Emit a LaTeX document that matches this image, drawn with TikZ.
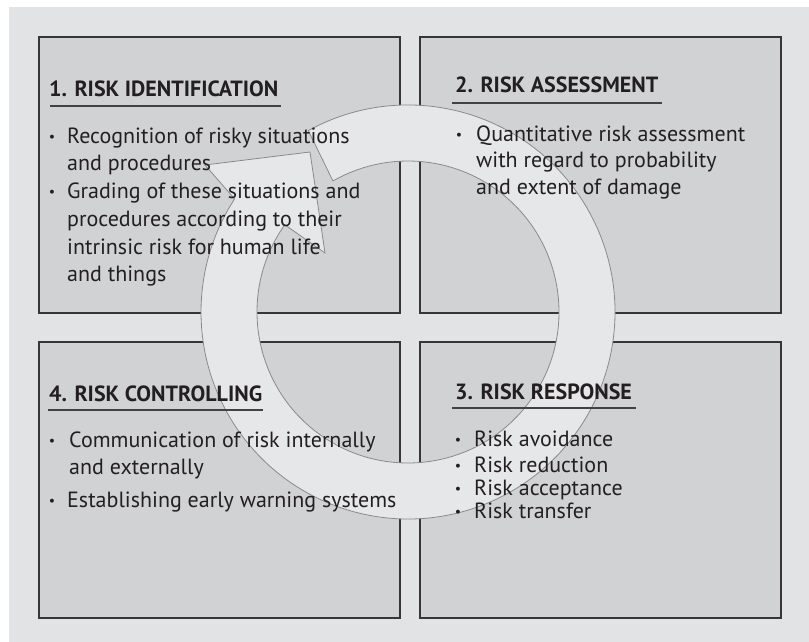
\documentclass[tikz,border=0pt]{standalone}
\usepackage{fontspec}
\setmainfont{PT Sans}
\definecolor{bgc}{HTML}{E2E3E5}
\definecolor{boxc}{HTML}{D1D2D4}
\definecolor{ringc}{HTML}{E6E7E8}
\definecolor{ringline}{HTML}{8A8A8A}
\definecolor{ink}{HTML}{231F20}
\begin{document}
\begin{tikzpicture}[x=1pt,y=1pt,
  panel/.style={fill=boxc,draw=ink!90,line width=1.6pt},
  ringshape/.style={fill=ringc,draw=ringline,line width=0.8pt,line join=miter},
  txt/.style={anchor=base west,inner sep=0pt,text=ink,font=\fontsize{22}{26}\selectfont},
  head/.style={txt,font=\fontsize{22}{26}\selectfont\bfseries},
  bul/.style={anchor=base,inner sep=0pt,text=ink,font=\fontsize{14}{16}\selectfont,yshift=2pt},
  uline/.style={draw=ink!85,line width=1.3pt}]
\useasboundingbox (0,0) rectangle (809,642);
\fill[bgc] (9,0) rectangle (809,635);
% panels
\draw[panel] (39,605) rectangle (400,329);
\draw[panel] (420,605) rectangle (781,329);
\draw[panel] (39,300) rectangle (400,24);
\draw[panel] (420,300) rectangle (781,24);
% cycle arrow
\begin{scope}[shift={(408,330)}]
\draw[ringshape] (118.8:207pt) arc[start angle=118.8,end angle=-213.1,radius=207pt]
  -- (-203,147) -- (-98,160) -- (-83,59) -- (-215.3:151pt)
  arc[start angle=-215.3,end angle=119.8,radius=151pt] -- cycle;
\end{scope}
% box 1
\node[head] (h1) at (49,545) {1. RISK IDENTIFICATION};
\draw[uline] ([xshift=1pt,yshift=-9pt]h1.base west) -- ([xshift=2pt,yshift=-9pt]h1.base east);
\node[bul] (p1a) at (52,498) {•};
\node[txt] (t1a) at (67,498) {Recognition of risky situations};
\node[txt] (t1b) at (67,471) {and procedures};
\node[bul] (p1b) at (52,443) {•};
\node[txt] (t1c) at (67,443) {Grading of these situations and};
\node[txt] (t1d) at (67,415) {procedures according to their};
\node[txt] (t1e) at (67,387) {intrinsic risk for human life};
\node[txt] (t1f) at (67,360) {and things};
% box 2
\node[head] (h2) at (455,549) {2. RISK ASSESSMENT};
\draw[uline] ([xshift=-3pt,yshift=-10pt]h2.base west) -- ([xshift=3pt,yshift=-10pt]h2.base east);
\node[bul] (p2a) at (459,500) {•};
\node[txt] (t2a) at (476,500) {Quantitative risk assessment};
\node[txt] (t2b) at (476,474) {with regard to probability};
\node[txt] (t2c) at (476,447) {and extent of damage};
% box 4
\node[head] (h4) at (49,240) {4. RISK CONTROLLING};
\draw[uline] ([xshift=-1pt,yshift=-8pt]h4.base west) -- ([xshift=1pt,yshift=-8pt]h4.base east);
\node[bul] (p4a) at (52,194) {•};
\node[txt] (t4a) at (69,194) {Communication of risk internally};
\node[txt] (t4b) at (69,167) {and externally};
\node[bul] (p4b) at (52,134) {•};
\node[txt] (t4c) at (67,134) {Establishing early warning systems};
% box 3
\node[head] (h3) at (455,242) {3. RISK RESPONSE};
\draw[uline] ([xshift=-3pt,yshift=-8pt]h3.base west) -- ([xshift=4pt,yshift=-8pt]h3.base east);
\node[bul] (p3a) at (458,195) {•};
\node[txt] (t3a) at (474,195) {Risk avoidance};
\node[bul] (p3b) at (458,169) {•};
\node[txt] (t3b) at (474,169) {Risk reduction};
\node[bul] (p3c) at (458,146) {•};
\node[txt] (t3c) at (474,146) {Risk acceptance};
\node[bul] (p3d) at (458,123) {•};
\node[txt] (t3d) at (474,123) {Risk transfer};
\end{tikzpicture}
\end{document}
